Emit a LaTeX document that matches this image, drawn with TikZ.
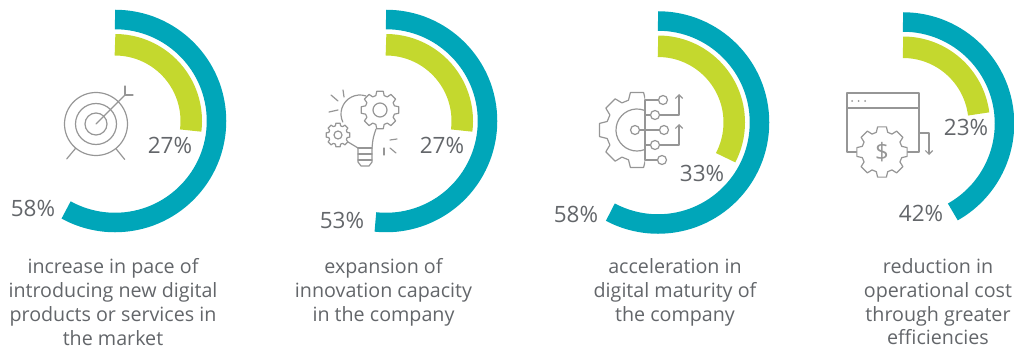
\documentclass[tikz,border=0pt]{standalone}
\usepackage{fontspec}
\setmainfont{Open Sans}
\usetikzlibrary{arrows.meta}
\definecolor{ringblue}{RGB}{0,166,185}
\definecolor{ringgreen}{RGB}{196,216,46}
\definecolor{labelgrey}{RGB}{99,102,106}
\definecolor{icongrey}{RGB}{150,150,150}
% gear outline: #1 centre, #2 root radius, #3 tip radius, #4 style
\newcommand{\drawgear}[4]{%
  \draw[#4, shift={(#1)}] (-10:#3) \foreach \a in {0,45,...,315} {-- (\a-10:#3) -- (\a+10:#3) -- (\a+16:#2) -- (\a+29:#2)} -- cycle;
}
\begin{document}
\begin{tikzpicture}[x=0.025cm, y=0.025cm]
  \tikzstyle{bluering}=[draw=ringblue, line width=0.4875cm]
  \tikzstyle{greenring}=[draw=ringgreen, line width=0.5375cm]
  \tikzstyle{pct}=[text=labelgrey, inner sep=0pt, font=\fontsize{16}{19}\selectfont]
  \tikzstyle{caption}=[text=labelgrey, inner sep=0pt, anchor=north, align=center, font=\fontsize{14}{17}\selectfont]
  \tikzstyle{iconline}=[draw=icongrey, line width=0.03cm, line join=round, line cap=round]
  \tikzstyle{pinnode}=[circle, iconline, fill=white, inner sep=0pt, minimum size=0.225cm]
  \tikzstyle{upline}=[iconline, -{Straight Barb[length=0.09cm, width=0.18cm]}]
  \useasboundingbox (0,0) rectangle (1014,350);

  % chart centres
  \coordinate (c1) at (115,229);
  \coordinate (c2) at (386,229);
  \coordinate (c3) at (658,227.5);
  \coordinate (c4) at (903,226.5);

  % rings
  \draw[bluering] (c1) ++(90:101.5) arc[start angle=90, end angle=-118.8, radius=101.5];
  \draw[greenring] (c1) ++(90:76.25) arc[start angle=90, end angle=-7.2, radius=76.25];
  \draw[bluering] (c2) ++(90:101.5) arc[start angle=90, end angle=-96, radius=101.5];
  \draw[greenring] (c2) ++(90:76.25) arc[start angle=90, end angle=-7.2, radius=76.25];
  \draw[bluering] (c3) ++(90:101.5) arc[start angle=90, end angle=-118, radius=101.5];
  \draw[greenring] (c3) ++(90:76.25) arc[start angle=90, end angle=-27.5, radius=76.25];
  \draw[bluering] (c4) ++(90:101.5) arc[start angle=90, end angle=-60.6, radius=101.5];
  \draw[greenring] (c4) ++(90:76.25) arc[start angle=90, end angle=7.2, radius=76.25];

  % percentages
  \node[pct] (g1) at (170,205) {27\%};
  \node[pct] (b1) at (33,142) {58\%};
  \node[pct] (g2) at (442,205) {27\%};
  \node[pct] (b2) at (342,130) {53\%};
  \node[pct] (g3) at (702,177) {33\%};
  \node[pct] (b3) at (576,136) {58\%};
  \node[pct] (g4) at (966,223) {23\%};
  \node[pct] (b4) at (921,137) {42\%};

  % captions
  \node[caption] (t1) at (113,92) {increase in pace of\\introducing new digital\\products or services in\\the market};
  \node[caption] (t2) at (383.5,92) {expansion of\\innovation capacity\\in the company};
  \node[caption] (t3) at (675,92) {acceleration in\\digital maturity of\\the company};
  \node[caption] (t4) at (938,92) {reduction in\\operational cost\\through greater\\efficiencies};

  % icon 1: target
  \coordinate (tg) at (96,226);
  \draw[iconline] (tg) circle[radius=31.5];
  \draw[iconline] (tg) circle[radius=20.5];
  \draw[iconline] (tg) circle[radius=11];
  \coordinate (tip1) at (125,255);
  \draw[iconline] (tg) -- (tip1);
  \draw[iconline] (tip1) -- ++(0,9);
  \draw[iconline] (tip1) -- ++(8,0);
  \draw[iconline] (tg) ++(-130:31.5) -- ++(-130:14);
  \draw[iconline] (tg) ++(-51:31.5) -- ++(-51:14);

  % icon 2: bulb with gears
  \coordinate (bulb) at (360,236);
  \draw[iconline] (bulb) ++(72:19) arc[start angle=72, end angle=205, radius=19];
  \draw[iconline] (348,208) -- (358,202);
  \draw[iconline] (376,221) .. controls (373,212) .. (372,202);
  \draw[iconline] (358,202) -- (372,202);
  \draw[iconline] (358,202) -- (358,188) -- (361,184) -- (369,184) -- (372,188) -- (372,202);
  \draw[iconline] (358,196) -- (372,196);
  \draw[iconline] (358,190) -- (372,190);
  \coordinate (gear2a) at (380,240);
  \coordinate (gear2b) at (338,215);
  \drawgear{gear2a}{15}{19}{iconline, fill=white}
  \draw[iconline] (gear2a) circle[radius=7];
  \drawgear{gear2b}{9.5}{12}{iconline, fill=white}
  \draw[iconline] (gear2b) circle[radius=4];
  \draw[iconline] (331,255) -- (338,249);
  \draw[iconline] (343,260) -- (344,253);
  \draw[iconline] (329,238) -- (338,240);
  \draw[iconline] (390,210) -- (397,211);
  \draw[iconline] (390,202) -- (396,197);
  \draw[iconline] (384,202) -- (384,195);

  % icon 3: gear with circuit
  \coordinate (gear3) at (637,220);
  \begin{scope}
    \clip (590,170) rectangle (645,270);
    \drawgear{gear3}{31}{38}{iconline}
  \end{scope}
  \draw[iconline] (gear3) ++(70:21) arc[start angle=70, end angle=290, radius=21];
  \draw[iconline] (645,250) -- (645,190);
  \node[pinnode] (c0) at (635,220) {};
  \node[pinnode] (n1) at (663,250) {};
  \node[pinnode] (n2) at (655,235) {};
  \node[pinnode] (n3) at (664,220) {};
  \node[pinnode] (n4) at (655,205) {};
  \node[pinnode] (n5) at (662,190) {};
  \draw[iconline] (645,250) -- (n1);
  \draw[iconline] (645,235) -- (n2);
  \draw[iconline] (c0) -- (n3);
  \draw[iconline] (645,205) -- (n4);
  \draw[iconline] (645,190) -- (n5);
  \draw[upline] (n2) -- (679,235) -- (679,256);
  \draw[upline] (n4) -- (679,205) -- (679,226);

  % icon 4: window with dollar gear
  \draw[iconline] (847,198) rectangle (919,257);
  \draw[iconline] (847,242) -- (919,242);
  \foreach \x in {852,858.5,865}
    \fill[icongrey] (\x,249) circle[radius=1];
  \coordinate (gear4) at (882,198);
  \drawgear{gear4}{20.5}{25.5}{iconline, fill=white}
  \node[text=icongrey, inner sep=0pt, font=\fontsize{17}{20}\selectfont] (dollar) at (gear4) {\$};
  \coordinate (w4) at (919,217);
  \draw[upline] (w4) -- (929,217) -- (929,195);
\end{tikzpicture}
\end{document}
